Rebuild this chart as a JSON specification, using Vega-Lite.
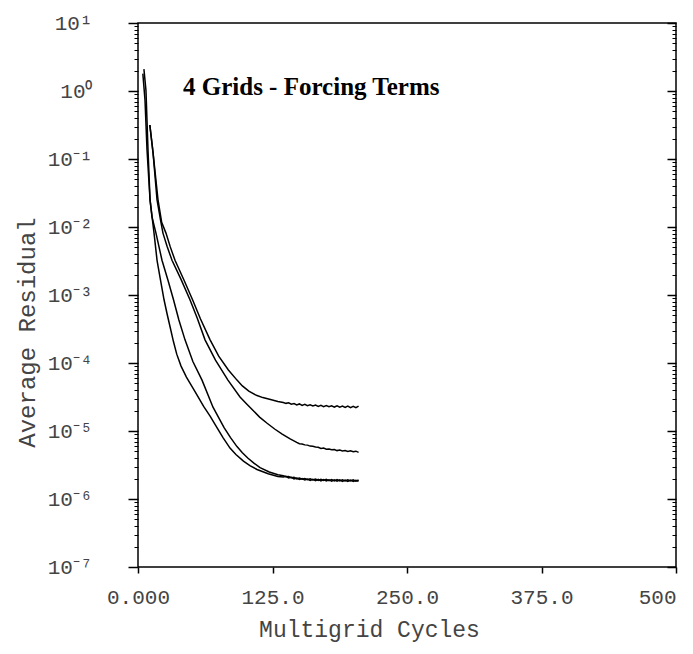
{
  "$schema": "https://vega.github.io/schema/vega-lite/v6.json",
  "width": 538,
  "height": 544,
  "autosize": "none",
  "padding": {"left": 138, "top": 23, "right": 17, "bottom": 87},
  "background": "white",
  "title": {"text": "4 Grids - Forcing Terms", "anchor": "start", "frame": "group", "orient": "top", "offset": 0, "dx": 45, "dy": 108,
    "baseline": "alphabetic", "font": "Liberation Serif", "fontSize": 25, "fontWeight": "bold", "color": "black"},
  "config": {"view": {"stroke": "black", "strokeWidth": 1.5}, "axis": {"grid": false, "ticks": true, "tickOpacity": 1, "zindex": 1}},
  "data": {"values": [
    {"c":"A","x":11,"r":0.316},{"c":"A","x":14,"r":0.123},{"c":"A","x":18.6,"r":0.0251},{"c":"A","x":22,"r":0.0117},{"c":"A","x":26,"r":0.00813},{"c":"A","x":30,"r":0.0051},{"c":"A","x":34.4,"r":0.00324},{"c":"A","x":43,"r":0.00162},{"c":"A","x":50.7,"r":0.000851},{"c":"A","x":58,"r":0.000447},{"c":"A","x":67,"r":0.000219},{"c":"A","x":75,"r":0.000126},{"c":"A","x":84,"r":7.9e-5},{"c":"A","x":92,"r":5.6e-5},{"c":"A","x":97,"r":4.6e-5},{"c":"A","x":103,"r":3.85e-5},{"c":"A","x":110,"r":3.35e-5},{"c":"A","x":116,"r":3.1e-5},{"c":"A","x":124,"r":2.88e-5},{"c":"A","x":130,"r":2.72e-5},
    {"c":"A","x":135,"r":2.62e-5},{"c":"A","x":137.5,"r":2.55e-5},{"c":"A","x":140,"r":2.6e-5},{"c":"A","x":142.5,"r":2.48e-5},{"c":"A","x":145,"r":2.53e-5},{"c":"A","x":147.5,"r":2.42e-5},{"c":"A","x":150,"r":2.5e-5},{"c":"A","x":152.5,"r":2.38e-5},{"c":"A","x":155,"r":2.46e-5},{"c":"A","x":157.5,"r":2.35e-5},{"c":"A","x":160,"r":2.42e-5},{"c":"A","x":162.5,"r":2.33e-5},{"c":"A","x":165,"r":2.4e-5},{"c":"A","x":167.5,"r":2.3e-5},{"c":"A","x":170,"r":2.38e-5},{"c":"A","x":172.5,"r":2.28e-5},{"c":"A","x":175,"r":2.36e-5},{"c":"A","x":177.5,"r":2.27e-5},{"c":"A","x":180,"r":2.35e-5},{"c":"A","x":182.5,"r":2.25e-5},{"c":"A","x":185,"r":2.34e-5},{"c":"A","x":187.5,"r":2.24e-5},{"c":"A","x":190,"r":2.33e-5},{"c":"A","x":192.5,"r":2.22e-5},{"c":"A","x":195,"r":2.32e-5},{"c":"A","x":197.5,"r":2.2e-5},{"c":"A","x":200,"r":2.3e-5},{"c":"A","x":202.5,"r":2.2e-5},{"c":"A","x":205,"r":2.32e-5},
    {"c":"B","x":11,"r":0.316},{"c":"B","x":14,"r":0.123},{"c":"B","x":17.7,"r":0.0251},{"c":"B","x":21,"r":0.0125},{"c":"B","x":23.2,"r":0.00813},{"c":"B","x":27,"r":0.0052},{"c":"B","x":31.6,"r":0.00324},{"c":"B","x":40,"r":0.0017},{"c":"B","x":48.3,"r":0.000851},{"c":"B","x":55,"r":0.00046},{"c":"B","x":62.3,"r":0.000219},{"c":"B","x":72,"r":0.00011},{"c":"B","x":83.6,"r":5.6e-5},{"c":"B","x":94.8,"r":3.16e-5},{"c":"B","x":101,"r":2.5e-5},{"c":"B","x":107,"r":2.0e-5},{"c":"B","x":113,"r":1.6e-5},{"c":"B","x":120,"r":1.3e-5},{"c":"B","x":127,"r":1.07e-5},{"c":"B","x":134,"r":9.0e-6},{"c":"B","x":141,"r":7.7e-6},
    {"c":"B","x":147.5,"r":6.8e-6},{"c":"B","x":150,"r":6.5e-6},{"c":"B","x":152.5,"r":6.45e-6},{"c":"B","x":155,"r":6.25e-6},{"c":"B","x":157.5,"r":6.2e-6},{"c":"B","x":160,"r":6.0e-6},{"c":"B","x":162.5,"r":5.95e-6},{"c":"B","x":165,"r":5.8e-6},{"c":"B","x":167.5,"r":5.75e-6},{"c":"B","x":170,"r":5.55e-6},{"c":"B","x":172.5,"r":5.6e-6},{"c":"B","x":175,"r":5.4e-6},{"c":"B","x":177.5,"r":5.45e-6},{"c":"B","x":180,"r":5.3e-6},{"c":"B","x":182.5,"r":5.35e-6},{"c":"B","x":185,"r":5.15e-6},{"c":"B","x":187.5,"r":5.25e-6},{"c":"B","x":190,"r":5.1e-6},{"c":"B","x":192.5,"r":5.15e-6},{"c":"B","x":195,"r":5.0e-6},{"c":"B","x":197.5,"r":5.1e-6},{"c":"B","x":200,"r":4.95e-6},{"c":"B","x":202.5,"r":5.05e-6},{"c":"B","x":205,"r":4.85e-6},
    {"c":"C","x":5.5,"r":2.1},{"c":"C","x":7.4,"r":1.02},{"c":"C","x":9.3,"r":0.135},{"c":"C","x":11.2,"r":0.0251},{"c":"C","x":13,"r":0.0141},{"c":"C","x":16.7,"r":0.00813},{"c":"C","x":22.3,"r":0.00324},{"c":"C","x":28,"r":0.00162},{"c":"C","x":33,"r":0.000851},{"c":"C","x":38,"r":0.00043},{"c":"C","x":43.7,"r":0.000219},{"c":"C","x":51,"r":0.000105},{"c":"C","x":59.5,"r":5.6e-5},{"c":"C","x":69.7,"r":2.24e-5},{"c":"C","x":80,"r":1.12e-5},{"c":"C","x":86,"r":8.0e-6},{"c":"C","x":92,"r":5.9e-6},{"c":"C","x":97,"r":4.8e-6},{"c":"C","x":102,"r":4.0e-6},{"c":"C","x":108,"r":3.35e-6},{"c":"C","x":113.4,"r":2.9e-6},{"c":"C","x":122,"r":2.5e-6},{"c":"C","x":130,"r":2.28e-6},
    {"c":"C","x":135,"r":2.2e-6},{"c":"C","x":137.5,"r":2.12e-6},{"c":"C","x":140,"r":2.14e-6},{"c":"C","x":142.5,"r":2.05e-6},{"c":"C","x":145,"r":2.08e-6},{"c":"C","x":147.5,"r":1.98e-6},{"c":"C","x":150,"r":2.03e-6},{"c":"C","x":152.5,"r":1.95e-6},{"c":"C","x":155,"r":2.0e-6},{"c":"C","x":157.5,"r":1.92e-6},{"c":"C","x":160,"r":1.98e-6},{"c":"C","x":162.5,"r":1.9e-6},{"c":"C","x":165,"r":1.96e-6},{"c":"C","x":167.5,"r":1.88e-6},{"c":"C","x":170,"r":1.95e-6},{"c":"C","x":172.5,"r":1.87e-6},{"c":"C","x":175,"r":1.94e-6},{"c":"C","x":177.5,"r":1.86e-6},{"c":"C","x":180,"r":1.93e-6},{"c":"C","x":182.5,"r":1.85e-6},{"c":"C","x":185,"r":1.93e-6},{"c":"C","x":187.5,"r":1.85e-6},{"c":"C","x":190,"r":1.92e-6},{"c":"C","x":192.5,"r":1.84e-6},{"c":"C","x":195,"r":1.92e-6},{"c":"C","x":197.5,"r":1.84e-6},{"c":"C","x":200,"r":1.91e-6},{"c":"C","x":202.5,"r":1.83e-6},{"c":"C","x":205,"r":1.9e-6},
    {"c":"D","x":4.5,"r":1.8},{"c":"D","x":6.5,"r":0.74},{"c":"D","x":8.4,"r":0.135},{"c":"D","x":11.2,"r":0.0251},{"c":"D","x":14.9,"r":0.00813},{"c":"D","x":17.7,"r":0.00324},{"c":"D","x":20.8,"r":0.0017},{"c":"D","x":24.2,"r":0.000851},{"c":"D","x":27,"r":0.00053},{"c":"D","x":30,"r":0.00033},{"c":"D","x":33,"r":0.000205},{"c":"D","x":36,"r":0.000135},{"c":"D","x":40,"r":9.0e-5},{"c":"D","x":45,"r":6.2e-5},{"c":"D","x":53,"r":3.8e-5},{"c":"D","x":61,"r":2.3e-5},{"c":"D","x":67,"r":1.65e-5},{"c":"D","x":72,"r":1.22e-5},{"c":"D","x":79,"r":8.0e-6},{"c":"D","x":85.5,"r":5.6e-6},{"c":"D","x":91,"r":4.5e-6},{"c":"D","x":98,"r":3.6e-6},{"c":"D","x":104,"r":3.1e-6},{"c":"D","x":110.6,"r":2.72e-6},{"c":"D","x":121,"r":2.35e-6},{"c":"D","x":130,"r":2.15e-6},
    {"c":"D","x":135,"r":2.1e-6},{"c":"D","x":137.5,"r":2.15e-6},{"c":"D","x":140,"r":2.04e-6},{"c":"D","x":142.5,"r":2.08e-6},{"c":"D","x":145,"r":1.98e-6},{"c":"D","x":147.5,"r":2.03e-6},{"c":"D","x":150,"r":1.94e-6},{"c":"D","x":152.5,"r":2.0e-6},{"c":"D","x":155,"r":1.9e-6},{"c":"D","x":157.5,"r":1.97e-6},{"c":"D","x":160,"r":1.88e-6},{"c":"D","x":162.5,"r":1.95e-6},{"c":"D","x":165,"r":1.86e-6},{"c":"D","x":167.5,"r":1.94e-6},{"c":"D","x":170,"r":1.85e-6},{"c":"D","x":172.5,"r":1.93e-6},{"c":"D","x":175,"r":1.84e-6},{"c":"D","x":177.5,"r":1.92e-6},{"c":"D","x":180,"r":1.83e-6},{"c":"D","x":182.5,"r":1.92e-6},{"c":"D","x":185,"r":1.83e-6},{"c":"D","x":187.5,"r":1.91e-6},{"c":"D","x":190,"r":1.82e-6},{"c":"D","x":192.5,"r":1.9e-6},{"c":"D","x":195,"r":1.82e-6},{"c":"D","x":197.5,"r":1.9e-6},{"c":"D","x":200,"r":1.81e-6},{"c":"D","x":202.5,"r":1.89e-6},{"c":"D","x":205,"r":1.82e-6}
  ]},
  "layer": [
    {
      "mark": {"type": "line", "color": "black", "strokeWidth": 1.5, "clip": true},
      "encoding": {
        "x": {"field": "x", "type": "quantitative",
          "scale": {"domain": [0, 500], "nice": false, "zero": false},
          "axis": {"orient": "bottom", "values": [0, 125, 250, 375, 500], "domain": false,
            "labelExpr": "datum.value == 0 ? '0.000' : (datum.value == 500 ? '500' : format(datum.value, '.1f'))",
            "labelAlign": {"condition": {"test": "datum.value == 500", "value": "right"}, "value": "center"},
            "labelFont": "Liberation Mono", "labelFontSize": 21, "labelColor": "#444", "labelPadding": 13,
            "tickSize": 6, "tickColor": "black", "tickWidth": 1.5,
            "title": "Multigrid Cycles", "titleFont": "Liberation Mono", "titleFontSize": 23, "titleFontWeight": "normal",
            "titleColor": "#444", "titleX": 231, "titleY": 62, "titleAlign": "center", "titleBaseline": "middle"}},
        "y": {"field": "r", "type": "quantitative",
          "scale": {"type": "log", "domain": [1e-7, 10], "nice": false},
          "axis": {"orient": "left", "domain": false,
            "values": [1e-7,2e-7,3e-7,4e-7,5e-7,6e-7,7e-7,8e-7,9e-7,1e-6,2e-6,3e-6,4e-6,5e-6,6e-6,7e-6,8e-6,9e-6,1e-5,2e-5,3e-5,4e-5,5e-5,6e-5,7e-5,8e-5,9e-5,1e-4,2e-4,3e-4,4e-4,5e-4,6e-4,7e-4,8e-4,9e-4,1e-3,2e-3,3e-3,4e-3,5e-3,6e-3,7e-3,8e-3,9e-3,1e-2,2e-2,3e-2,4e-2,5e-2,6e-2,7e-2,8e-2,9e-2,0.1,0.2,0.3,0.4,0.5,0.6,0.7,0.8,0.9,1,2,3,4,5,6,7,8,9,10],
            "labelExpr": "abs(log(datum.value) / LN10 - round(log(datum.value) / LN10)) < 0.001 ? '10' + ['⁻⁷','⁻⁶','⁻⁵','⁻⁴','⁻³','⁻²','⁻¹','⁰','¹'][round(log(datum.value) / LN10) + 7] : ''",
            "labelFont": "Liberation Mono", "labelFontSize": 21, "labelColor": "#444",
            "labelPadding": 36, "labelBaseline": "middle", "labelOverlap": false, "labelFlush": false,
            "tickSize": 10, "tickColor": "black",
            "tickWidth": {"condition": {"test": "abs(log(datum.value) / LN10 - round(log(datum.value) / LN10)) < 0.001", "value": 1.5}, "value": 1},
            "tickDash": {"condition": {"test": "abs(log(datum.value) / LN10 - round(log(datum.value) / LN10)) < 0.001", "value": [10, 0]}, "value": [4, 30]},
            "title": "Average Residual", "titleFont": "Liberation Mono", "titleFontSize": 24, "titleFontWeight": "normal",
            "titleColor": "#444", "titleX": -111, "titleY": 309, "titleAlign": "center", "titleBaseline": "middle", "titleAngle": -90}},
        "detail": {"field": "c"}
      }
    },
    {
      "mark": {"type": "point", "opacity": 0},
      "encoding": {
        "x": {"field": "x", "type": "quantitative", "axis": null},
        "y": {"field": "r", "type": "quantitative",
          "axis": {"orient": "right", "domain": false,
            "values": [1e-7,2e-7,3e-7,4e-7,5e-7,6e-7,7e-7,8e-7,9e-7,1e-6,2e-6,3e-6,4e-6,5e-6,6e-6,7e-6,8e-6,9e-6,1e-5,2e-5,3e-5,4e-5,5e-5,6e-5,7e-5,8e-5,9e-5,1e-4,2e-4,3e-4,4e-4,5e-4,6e-4,7e-4,8e-4,9e-4,1e-3,2e-3,3e-3,4e-3,5e-3,6e-3,7e-3,8e-3,9e-3,1e-2,2e-2,3e-2,4e-2,5e-2,6e-2,7e-2,8e-2,9e-2,0.1,0.2,0.3,0.4,0.5,0.6,0.7,0.8,0.9,1,2,3,4,5,6,7,8,9,10],
            "labels": false, "tickSize": -9, "tickColor": "black",
            "tickWidth": {"condition": {"test": "abs(log(datum.value) / LN10 - round(log(datum.value) / LN10)) < 0.001", "value": 1.5}, "value": 1},
            "tickDash": {"condition": {"test": "abs(log(datum.value) / LN10 - round(log(datum.value) / LN10)) < 0.001", "value": [9, 0]}, "value": [4, 30]},
            "title": null}}
      }
    }
  ],
  "resolve": {"axis": {"x": "independent", "y": "independent"}}
}
